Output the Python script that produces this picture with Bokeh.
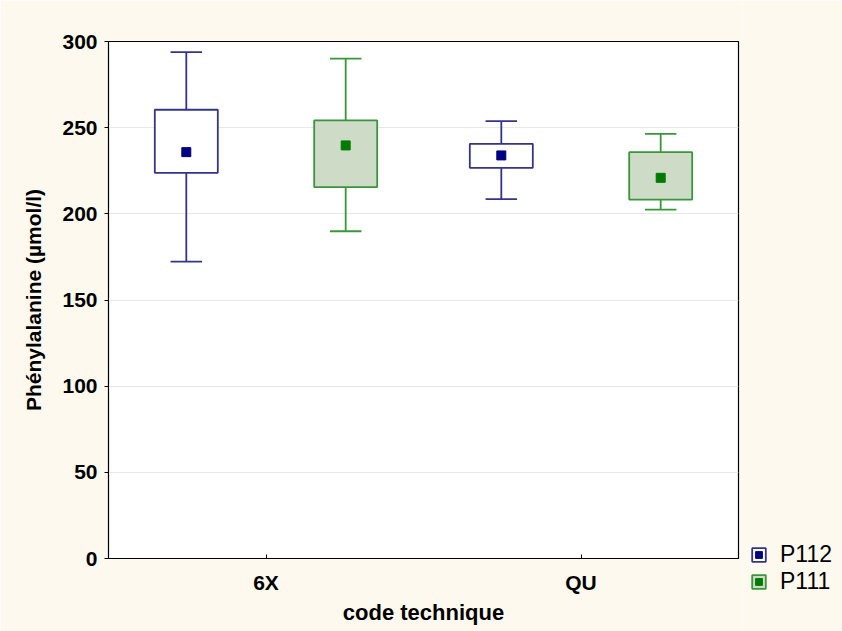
from bokeh.plotting import figure
from bokeh.models import ColumnDataSource, FactorRange, Legend, LegendItem, FixedTicker
from bokeh.layouts import row
from bokeh.transform import dodge
from bokeh.embed import file_html
from bokeh.resources import INLINE

categories = ["6X", "QU"]
series = ["P112", "P111"]

p112_whisker_low = [172.3, 208.5]
p112_box_low = [223.8, 226.7]
p112_mean = [235.8, 233.9]
p112_box_high = [260.4, 240.6]
p112_whisker_high = [293.8, 253.8]

p111_whisker_low = [189.9, 202.5]
p111_box_low = [215.5, 208.3]
p111_mean = [239.7, 220.9]
p111_box_high = [254.2, 235.8]
p111_whisker_high = [290.1, 246.4]

y_ticks = [0, 50, 100, 150, 200, 250, 300]

FONT = "Liberation Sans"
CREAM = "#fdf9ee"

p = figure(width=742, height=631, x_range=FactorRange(*categories, range_padding=0),
           y_range=(0, 300), output_backend="svg", toolbar_location=None,
           min_border_left=108, min_border_right=4, min_border_top=41, min_border_bottom=73)
p.x_range.range_padding = 0
p.frame_align = False
p.background_fill_color = "white"
p.border_fill_color = CREAM
p.outline_line_color = "black"
p.outline_line_width = 1.2

p.xgrid.grid_line_color = None
p.ygrid.grid_line_color = "#e8e8e8"
p.ygrid.grid_line_width = 1
p.yaxis.ticker = FixedTicker(ticks=y_ticks)

for ax in (p.xaxis[0], p.yaxis[0]):
    ax.axis_line_color = "black"
    ax.major_label_text_font = FONT
    ax.major_label_text_font_style = "bold"
    ax.major_label_text_font_size = "21px"
    ax.major_label_text_color = "black"
    ax.axis_label_text_font = FONT
    ax.axis_label_text_font_style = "bold"
    ax.axis_label_text_color = "black"
    ax.minor_tick_line_color = None
    ax.major_tick_line_color = "black"

p.yaxis.axis_label = "Phénylalanine (µmol/l)"
p.yaxis.axis_label_text_font_size = "21px"
p.yaxis.major_tick_out = 4
p.yaxis.major_tick_in = 0
p.yaxis.major_label_standoff = 7
p.yaxis.axis_label_standoff = 14

p.xaxis.axis_label = "code technique"
p.xaxis.axis_label_text_font_size = "22px"
p.xaxis.major_tick_out = 0
p.xaxis.major_tick_in = 4
p.xaxis.major_label_standoff = 12
p.xaxis.axis_label_standoff = 3

styles = {
    "P112": dict(offset=-0.253, line="#34348a", fill="white", mean="#000080",
                 data=(p112_whisker_low, p112_box_low, p112_mean, p112_box_high, p112_whisker_high)),
    "P111": dict(offset=0.253, line="#3a963a", fill="#cddbc7", mean="#007a00",
                 data=(p111_whisker_low, p111_box_low, p111_mean, p111_box_high, p111_whisker_high)),
}

# separate small figure holding the legend, placed to the right of the chart
lg = figure(width=100, height=631, x_range=(0, 1), y_range=(0, 1), output_backend="svg",
            toolbar_location=None, x_axis_location=None, y_axis_location=None,
            min_border_left=0, min_border_right=0, min_border_top=0, min_border_bottom=0)
lg.frame_align = False
lg.grid.grid_line_color = None
lg.outline_line_color = None
lg.background_fill_color = CREAM
lg.border_fill_color = CREAM

legend_items = []
lw = 1.8
for name in series:
    st = styles[name]
    wl, bl, m, bh, wh = st["data"]
    src = ColumnDataSource(dict(cat=categories, wl=wl, bl=bl, m=m, bh=bh, wh=wh))
    off = st["offset"]
    xc = dodge("cat", off, range=p.x_range)
    xl = dodge("cat", off - 0.05, range=p.x_range)
    xr = dodge("cat", off + 0.05, range=p.x_range)
    p.segment(x0=xc, x1=xc, y0="wl", y1="bl", source=src, line_color=st["line"], line_width=lw)
    p.segment(x0=xc, x1=xc, y0="bh", y1="wh", source=src, line_color=st["line"], line_width=lw)
    p.segment(x0=xl, x1=xr, y0="wl", y1="wl", source=src, line_color=st["line"], line_width=lw)
    p.segment(x0=xl, x1=xr, y0="wh", y1="wh", source=src, line_color=st["line"], line_width=lw)
    p.vbar(x=xc, width=0.2, bottom="bl", top="bh", source=src,
           fill_color=st["fill"], line_color=st["line"], line_width=lw)
    p.scatter(x=xc, y="m", source=src, marker="square", size=9,
              fill_color=st["mean"], line_color=st["mean"])
    # legend proxies in the legend figure (their data lies outside its visible ranges)
    box = lg.rect(x="m", y="m", width=1, height=1, source=src,
                  fill_color=st["fill"], line_color=st["line"], line_width=lw)
    mean = lg.scatter(x="m", y="m", source=src, marker="square", size=7,
                      fill_color=st["mean"], line_color=st["mean"])
    legend_items.append(LegendItem(label=name, renderers=[box, mean]))

legend = Legend(items=legend_items, location=(8, 36),
                label_text_font=FONT, label_text_font_size="23px", label_text_color="black",
                glyph_width=17, glyph_height=17, label_standoff=13, spacing=0,
                padding=0, margin=0, border_line_color=None, background_fill_alpha=0,
                label_height=18)
lg.add_layout(legend)

layout = row(p, lg, spacing=0)
open("out.html", "w").write(file_html(layout, INLINE))
